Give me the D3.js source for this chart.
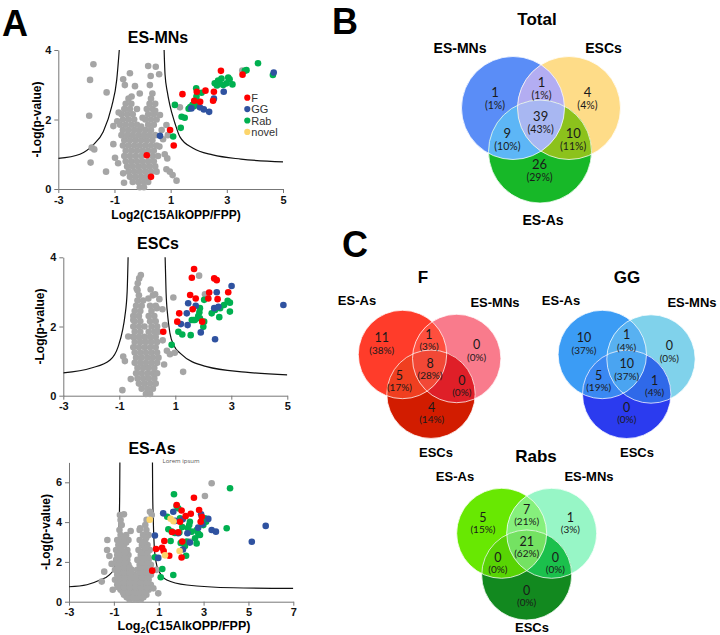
<!DOCTYPE html>
<html>
<head>
<meta charset="utf-8">
<script src="https://cdn.jsdelivr.net/npm/d3@7"></script>
<style>
body { margin: 0; background: #fff; }
svg { display: block; }
text { font-family: "Liberation Sans", Arial, sans-serif; }
</style>
</head>
<body>
<script>
// ---------- volcano data (Log2 ratio, -Log p) ----------
const grey1 = [[-0.1,0.05],[0.05,0.05],[-0.35,0.2],[-0.15,0.2],[0.05,0.2],[0.2,0.2],
  [-0.45,0.35],[-0.25,0.35],[-0.05,0.35],[0.15,0.35],
  [-0.5,0.5],[-0.3,0.5],[-0.1,0.5],[0.1,0.5],[0.3,0.5],[0.5,0.5],
  [-0.55,0.65],[-0.35,0.65],[-0.15,0.65],[0.05,0.65],[0.25,0.65],[0.45,0.65],
  [-0.6,0.8],[-0.4,0.8],[-0.2,0.8],[0,0.8],[0.2,0.8],[0.4,0.8],
  [-0.65,0.95],[-0.45,0.95],[-0.25,0.95],[-0.05,0.95],[0.35,0.95],[0.55,0.95],
  [-0.6,1.1],[-0.4,1.1],[-0.2,1.1],[0,1.1],[0.2,1.1],[0.4,1.1],
  [-0.7,1.25],[-0.5,1.25],[-0.3,1.25],[-0.1,1.25],[0.1,1.25],[0.3,1.25],[0.5,1.25],
  [-0.65,1.4],[-0.45,1.4],[-0.25,1.4],[-0.05,1.4],[0.15,1.4],[0.35,1.4],
  [-0.75,1.55],[-0.55,1.55],[-0.35,1.55],[-0.15,1.55],[0.05,1.55],[0.25,1.55],[0.45,1.55],
  [-0.7,1.7],[-0.5,1.7],[-0.3,1.7],[-0.1,1.7],[0.1,1.7],[0.3,1.7],
  [-0.8,1.85],[-0.6,1.85],[-0.4,1.85],[-0.2,1.85],[0.2,1.85],[0.4,1.85],
  [-0.7,2.0],[-0.5,2.0],[-0.3,2.0],[0.1,2.0],[0.3,2.0],[0.5,2.0],
  [-0.75,2.15],[-0.55,2.15],[-0.35,2.15],[0.2,2.15],[0.4,2.15],
  [-0.65,2.3],[-0.45,2.3],[0.15,2.3],[0.35,2.3],
  [-0.6,2.45],[-0.4,2.45],[0.25,2.45],[0.45,2.45],
  [-0.5,2.6],[0.3,2.6],[-0.1,2.75],[0.35,2.75],
  [-0.85,2.2],[-0.9,1.95],[-0.2,2.3],[0.0,2.05],[-0.05,1.8],[0.45,2.25],
  [-1.75,3.59],[-1.87,3.14],[-1.28,2.78],[-1.90,2.11],[-1.81,1.19],[-1.72,1.14],[-1.85,0.76],
  [-1.30,0.50],[-0.45,3.33],[-0.69,3.16],[0.20,3.54],[0.47,3.52],[0.29,3.25],[0.59,3.30],
  [-0.63,2.99],[-0.27,2.96],[0.26,2.99],[-0.39,2.66],[-1.04,1.81],[-1.04,1.29],[-0.98,0.90],
  [-0.87,0.74],[-0.69,0.45],[-0.66,0.18],[0.85,1.84],[0.73,1.43],[0.79,1.00],[0.88,0.88],
  [0.85,0.57],[1.07,0.40],[0.62,2.13],[0.60,1.22],[0.68,1.70],[1.21,0.24],[0.97,0.50],
  [1.33,2.35],[3.55,3.41],[0.9,1.55]];
const red1 = [[1.42,2.73],[1.84,2.54],[1.93,2.80],[2.24,2.83],[2.54,2.80],[2.51,2.54],[2.05,2.51],
  [0.98,1.70],[1.11,1.25],[2.79,3.40],[3.56,3.29],[0.15,0.97],[0.30,0.35]];
const blue1 = [[0.62,1.53],[1.74,2.32],[2.04,2.35],[2.18,2.29],[2.37,2.22],[2.54,2.60],[2.89,2.80],[4.67,3.35]];
const green1 = [[4.11,3.62],[4.64,3.28],[3.64,3.40],[3.05,3.21],[2.57,3.04],[2.69,3.12],[2.75,3.04],
  [2.87,2.99],[2.99,3.04],[3.10,3.16],[3.20,3.01],[2.81,3.18],[2.65,2.98],[2.10,2.77],[1.92,2.66],
  [1.91,2.90],[1.86,2.47],[1.78,2.42],[1.95,2.44],[1.83,2.38],[1.70,2.36],[1.98,2.52],[1.64,2.31],
  [1.15,2.42],[1.39,2.08],[1.50,2.05],[1.36,1.76],[1.09,1.51],[3.70,3.42]];
const novel1 = [];

const grey2 = [[-0.05,0.05],[0.1,0.05],[-0.2,0.2],[0,0.2],[0.2,0.2],
  [-0.3,0.35],[-0.1,0.35],[0.1,0.35],[0.3,0.35],
  [-0.35,0.5],[-0.15,0.5],[0.05,0.5],[0.25,0.5],
  [-0.4,0.65],[-0.2,0.65],[0,0.65],[0.2,0.65],[0.35,0.65],
  [-0.35,0.8],[-0.15,0.8],[0.05,0.8],[0.25,0.8],
  [-0.45,0.95],[-0.25,0.95],[-0.05,0.95],[0.15,0.95],[0.35,0.95],
  [-0.4,1.1],[-0.2,1.1],[0,1.1],[0.2,1.1],[0.4,1.1],
  [-0.45,1.25],[-0.25,1.25],[-0.05,1.25],[0.15,1.25],[0.35,1.25],
  [-0.5,1.4],[-0.3,1.4],[-0.1,1.4],[0.1,1.4],[0.3,1.4],
  [-0.45,1.55],[-0.25,1.55],[-0.05,1.55],[0.15,1.55],[0.35,1.55],
  [-0.5,1.7],[-0.3,1.7],[-0.1,1.7],[0.1,1.7],[0.3,1.7],
  [-0.45,1.85],[-0.25,1.85],[0.05,1.85],[0.25,1.85],[0.4,1.85],
  [-0.5,2.0],[-0.3,2.0],[-0.1,2.0],[0.15,2.0],[0.35,2.0],
  [-0.45,2.15],[-0.25,2.15],[0.1,2.15],[0.3,2.15],
  [-0.5,2.3],[-0.3,2.3],[0.05,2.3],[0.25,2.3],
  [-0.45,2.45],[-0.25,2.45],[0.15,2.45],
  [-0.4,2.6],[-0.2,2.6],[0.1,2.6],[0.3,2.6],
  [-0.35,2.75],[-0.15,2.75],[-0.3,2.9],[0.2,2.9],[-0.35,3.05],
  [-0.29,3.39],[-0.23,3.49],[-0.34,3.25],[-0.38,3.10],[0.04,2.81],[0.28,2.93],[0.12,3.07],
  [0.43,2.79],[0.34,2.53],[0.63,2.04],[-0.86,1.13],[-0.80,1.0],[-0.59,0.48],[-0.89,0.16],
  [-0.68,1.71],[-0.50,2.19],[1.85,3.47],[0.93,2.84],[0.54,2.50],[0.98,1.24],[1.28,0.69],
  [0.81,1.2],[2.06,2.93],[0.55,1.6],[0.6,0.9],[0.7,1.3]];
const red2 = [[1.67,3.66],[1.59,3.41],[2.39,3.39],[2.48,3.34],[2.21,2.98],[2.89,2.99],[1.53,2.91],
  [1.73,2.81],[2.18,2.81],[2.51,2.79],[1.62,2.50],[1.14,2.38],[1.96,2.14],[1.07,2.14],[0.57,1.85]];
const blue2 = [[3.01,3.17],[2.48,2.99],[1.46,2.67],[1.73,2.60],[2.39,2.53],[2.54,2.57],[1.41,2.38],
  [1.20,2.07],[1.44,2.04],[1.91,1.83],[2.42,1.63],[4.86,2.62]];
const green2 = [[2.03,2.77],[1.88,2.53],[1.86,2.41],[1.82,2.30],[1.88,2.24],[2.03,2.14],[2.0,1.99],
  [1.59,2.19],[1.70,2.19],[1.11,1.85],[1.25,1.77],[1.55,1.75],[0.87,1.47],[2.30,2.38],[2.42,2.48],
  [2.60,2.53],[2.74,2.62],[2.87,2.74],[2.95,2.69],[2.95,2.43],[2.57,2.27],[1.65,2.19]];
const novel2 = [];

const grey3 = [[-0.3,0.1],[-0.05,0.1],[0.2,0.1],
  [-0.55,0.35],[-0.3,0.35],[-0.05,0.35],[0.2,0.35],[0.45,0.35],
  [-0.7,0.6],[-0.45,0.6],[-0.2,0.6],[0.05,0.6],[0.3,0.6],[0.55,0.6],
  [-0.85,0.85],[-0.6,0.85],[-0.35,0.85],[-0.1,0.85],[0.15,0.85],[0.4,0.85],[0.65,0.85],
  [-0.95,1.1],[-0.7,1.1],[-0.45,1.1],[-0.2,1.1],[0.05,1.1],[0.3,1.1],[0.55,1.1],
  [-0.85,1.35],[-0.6,1.35],[-0.35,1.35],[-0.1,1.35],[0.15,1.35],[0.4,1.35],[0.65,1.35],
  [-0.95,1.6],[-0.7,1.6],[-0.45,1.6],[-0.2,1.6],[0.05,1.6],[0.3,1.6],[0.55,1.6],
  [-0.85,1.85],[-0.6,1.85],[-0.35,1.85],[0.15,1.85],[0.4,1.85],[0.65,1.85],
  [-0.9,2.1],[-0.65,2.1],[-0.4,2.1],[0.05,2.1],[0.3,2.1],[0.55,2.1],
  [-0.85,2.35],[-0.6,2.35],[-0.35,2.35],[0.2,2.35],[0.45,2.35],
  [-0.9,2.6],[-0.65,2.6],[-0.4,2.6],[0.1,2.6],[0.35,2.6],[0.6,2.6],
  [-0.8,2.85],[-0.55,2.85],[0.25,2.85],[0.5,2.85],
  [-0.85,3.1],[-0.6,3.1],[-0.35,3.1],[0.15,3.1],[0.4,3.1],
  [-0.7,3.35],[-0.45,3.35],[0.3,3.35],[0.55,3.35],
  [-0.75,3.6],[0.15,3.6],[0.45,3.6],[-0.65,3.85],[0.4,3.85],[-0.7,4.1],
  [-0.43,0.22],[-0.18,0.22],[0.07,0.22],[0.32,0.22],
  [-0.6,0.47],[-0.35,0.47],[-0.1,0.47],[0.15,0.47],[0.4,0.47],
  [-0.8,0.72],[-0.55,0.72],[-0.3,0.72],[-0.05,0.72],[0.2,0.72],[0.45,0.72],
  [-0.8,0.97],[-0.55,0.97],[-0.3,0.97],[-0.05,0.97],[0.2,0.97],[0.45,0.97],
  [-0.75,1.22],[-0.5,1.22],[-0.25,1.22],[0,1.22],[0.25,1.22],[0.5,1.22],
  [-0.8,1.47],[-0.55,1.47],[-0.3,1.47],[0.2,1.47],[0.45,1.47],
  [-0.8,1.72],[-0.55,1.72],[-0.3,1.72],[0.2,1.72],[0.45,1.72],
  [-0.75,1.97],[-0.5,1.97],[0.25,1.97],[0.5,1.97],
  [-0.75,2.22],[-0.5,2.22],[0.3,2.22],[0.55,2.22],
  [-0.75,2.47],[-0.5,2.47],[0.25,2.47],[0.5,2.47],
  [-0.7,2.72],[0.4,2.72],[-0.7,2.97],[-0.45,2.97],[0.3,2.97],[-0.55,3.22],[0.45,3.22],
  [-0.73,4.36],[-0.55,4.39],[-1.29,3.10],[-1.43,1.51],[-1.54,1.01],[-1.2,2.3],[-1.1,1.9],
  [-1.05,0.6],[0.61,4.52],[0.69,4.36],[0.46,4.11],[0.76,0.67],[0.98,0.42],[3.36,5.95],
  [3.06,5.31],[2.39,3.02],[-1.3,2.6],[0.9,1.6],[-0.25,3.55],[0.17,3.69]];
const red3 = [[2.57,5.22],[1.80,4.86],[2.02,4.58],[2.43,4.42],[2.80,4.61],[2.87,4.02],[2.92,4.27],
  [1.25,3.05],[1.15,2.71],[1.22,2.55],[0.88,2.65],[1.47,2.31],[2.02,2.22],[2.05,3.02],[0.71,1.56],
  [1.87,3.49],[1.95,4.02],[1.60,3.50],[2.20,4.30]];
const blue3 = [[5.77,3.81],[5.15,3.01],[3.36,3.60],[3.55,3.52],[1.65,4.52],[1.20,4.44],[2.07,4.14],
  [2.89,4.39],[3.21,4.16],[2.76,3.72],[2.28,3.44],[1.87,3.44],[0.83,3.33],[0.98,2.20],[2.08,2.62],
  [2.39,2.97],[1.73,4.06],[2.95,3.90]];
const green3 = [[4.18,5.70],[1.68,5.40],[1.80,4.81],[1.87,4.69],[1.38,4.27],[1.95,4.19],[2.39,4.02],
  [2.36,3.85],[3.06,4.19],[3.11,4.02],[2.99,3.85],[4.03,3.69],[1.43,3.64],[1.58,3.52],[1.72,3.45],
  [2.47,3.52],[2.69,3.60],[2.76,3.44],[2.84,3.35],[2.62,3.19],[1.53,3.05],[2.25,3.02],[2.69,2.93],
  [2.22,2.31],[0.83,2.23],[1.16,1.64],[1.09,1.23],[1.65,1.34],[2.17,2.80],[2.05,3.75],[2.30,3.70],
  [1.92,3.48],[2.95,4.05],[1.98,2.95]];
const novel3 = [[0.60,4.12],[1.53,4.17],[1.66,4.04],[1.93,2.55],[1.28,2.33]];

// cut-off curves
const cutL1 = [[-3,0.88],[-2.23,1.0],[-1.76,1.27],[-1.40,1.65],[-1.10,2.37],[-0.92,3.14],[-0.81,4.2]];
const cutR1 = [[0.76,4.2],[0.8,3.3],[0.88,2.8],[0.97,2.42],[1.15,1.9],[1.33,1.5],[1.8,1.17],[2.5,0.98],[3.5,0.86],[5,0.78]];
const cutL2 = [[-3,0.66],[-2,0.8],[-1.33,1.03],[-1.04,1.42],[-0.88,1.9],[-0.8,2.3],[-0.72,3.0],[-0.68,4.2]];
const cutR2 = [[0.63,4.2],[0.67,3.0],[0.73,2.3],[0.81,1.8],[0.95,1.45],[1.17,1.23],[2.12,0.84],[3.5,0.68],[5,0.60]];
const cutL3 = [[-3,0.75],[-2.2,0.85],[-1.62,1.09],[-1.2,1.35],[-1.02,1.6],[-0.88,2.2],[-0.8,2.8],[-0.76,4],[-0.74,5.5],[-0.73,7.2]];
const cutR3 = [[0.72,7.2],[0.73,5.5],[0.76,4],[0.8,2.8],[0.88,2.0],[1.0,1.55],[1.36,1.09],[2.25,0.84],[4.33,0.70],[7,0.67]];

const xTicks12 = [-3, -1, 1, 3, 5];
const xTicks3 = [-3, -1, 1, 3, 5, 7];
const yTicks12 = [0, 2, 4];
const yTicks3 = [0, 2, 4, 6];
const legendNames = ["F", "GG", "Rab", "novel"];

// ---------- Venn data: regions a, ab, b, ac, abc, bc, c ----------
const totalSets = ["ES-MNs", "ESCs", "ES-As"];
const totalCounts = [1, 1, 4, 9, 39, 10, 26];
const totalPct = [1, 1, 4, 10, 43, 11, 29];
const fSets = ["ES-As", "ES-MNs", "ESCs"];
const fCounts = [11, 1, 0, 5, 8, 0, 4];
const fPct = [38, 3, 0, 17, 28, 0, 14];
const ggSets = ["ES-As", "ES-MNs", "ESCs"];
const ggCounts = [10, 1, 0, 5, 10, 1, 0];
const ggPct = [37, 4, 0, 19, 37, 4, 0];
const rabSets = ["ES-As", "ES-MNs", "ESCs"];
const rabCounts = [5, 7, 1, 0, 21, 0, 0];
const rabPct = [15, 21, 3, 0, 62, 0, 0];

const dotColor = {grey: "#a5a5a5", green: "#00b050", blue: "#2f52a0", red: "#ff0000", novel: "#fcd56c"};

const svg = d3.select("body").append("svg")
    .attr("width", 720)
    .attr("height", 635);

let clipId = 0;

function drawVolcano(p) {
    const x = d3.scaleLinear().domain(p.xDomain).range(p.xRange);
    const y = d3.scaleLinear().domain(p.yDomain).range(p.yRange);
    const g = svg.append("g");
    const id = "vclip" + (clipId++);

    svg.append("clipPath").attr("id", id)
        .append("rect")
        .attr("x", p.xRange[0]).attr("y", p.yRange[1])
        .attr("width", p.xRange[1] - p.xRange[0])
        .attr("height", p.yRange[0] - p.yRange[1]);

    const xAxis = g.append("g")
        .attr("transform", "translate(0," + p.yRange[0] + ")")
        .call(d3.axisBottom(x).tickValues(p.xTicks).tickSize(4).tickSizeOuter(0).tickFormat(d => String(d)));
    const yAxis = g.append("g")
        .attr("transform", "translate(" + p.xRange[0] + ",0)")
        .call(d3.axisLeft(y).tickValues(p.yTicks).tickSize(4).tickSizeOuter(0).tickFormat(d => String(d)));
    [xAxis, yAxis].forEach(a => {
        a.selectAll("path, line").attr("stroke", "#777");
        a.selectAll("text")
            .style("font-family", "'Liberation Sans', Arial, sans-serif")
            .style("font-weight", "bold")
            .style("font-size", "11px")
            .attr("fill", "#111");
    });

    const line = d3.line()
        .x(d => x(d[0]))
        .y(d => y(d[1]))
        .curve(d3.curveMonotoneX);

    const plotArea = g.append("g").attr("clip-path", "url(#" + id + ")");
    p.cuts.forEach(c => {
        plotArea.append("path")
            .attr("d", line(c))
            .attr("fill", "none")
            .attr("stroke", "#111")
            .attr("stroke-width", 1.2);
    });

    [["grey", p.grey], ["green", p.green], ["blue", p.blue], ["red", p.red], ["novel", p.novel]]
        .forEach(([k, arr]) => {
            g.append("g").selectAll("circle")
                .data(arr)
                .enter().append("circle")
                .attr("cx", d => x(d[0]))
                .attr("cy", d => y(d[1]))
                .attr("r", 3.3)
                .attr("fill", dotColor[k]);
        });

    // title
    g.append("text")
        .attr("x", p.titleX).attr("y", p.titleY)
        .attr("text-anchor", "middle")
        .style("font-weight", "bold").style("font-size", "16px")
        .text(p.title);

    // y label
    g.append("text")
        .attr("transform", "translate(" + p.yLabelX + "," + ((p.yRange[0] + p.yRange[1]) / 2) + ") rotate(-90)")
        .attr("text-anchor", "middle")
        .style("font-weight", "bold").style("font-size", "12px")
        .text("-Log(p-value)");

    if (p.xLabel) {
        const t = g.append("text")
            .attr("x", p.xLabelX).attr("y", p.xLabelY)
            .attr("text-anchor", "middle")
            .style("font-weight", "bold").style("font-size", p.xLabelSize + "px");
        if (p.subscript) {
            t.append("tspan").text("Log");
            t.append("tspan").attr("dy", 3).style("font-size", "9px").text("2");
            t.append("tspan").attr("dy", -3).text("(C15AlkOPP/FPP)");
        } else {
            t.text("Log2(C15AlkOPP/FPP)");
        }
    }
    return {g: g, x: x, y: y};
}

const v1 = drawVolcano({
    xDomain: [-3, 5], yDomain: [0, 4], xRange: [58.3, 283], yRange: [189, 50],
    xTicks: xTicks12, yTicks: yTicks12,
    grey: grey1, green: green1, blue: blue1, red: red1, novel: novel1,
    cuts: [cutL1, cutR1],
    title: "ES-MNs", titleX: 158, titleY: 43, yLabelX: 41,
    xLabel: true, xLabelX: 176, xLabelY: 219, xLabelSize: 12
});

// legend in the ES-MNs plot
const legColors = [dotColor.red, dotColor.blue, dotColor.green, dotColor.novel];
const leg = v1.g.append("g").selectAll("g")
    .data(legendNames)
    .enter().append("g")
    .attr("transform", (d, i) => "translate(247.3," + (97.7 + i * 11.4) + ")");
leg.append("circle").attr("r", 3.1).attr("fill", (d, i) => legColors[i]);
leg.append("text").attr("x", 4).attr("y", 4)
    .style("font-size", "11px").attr("fill", "#333").text(d => d);

drawVolcano({
    xDomain: [-3, 5], yDomain: [0, 4], xRange: [63.3, 287.3], yRange: [395.7, 257.3],
    xTicks: xTicks12, yTicks: yTicks12,
    grey: grey2, green: green2, blue: blue2, red: red2, novel: novel2,
    cuts: [cutL2, cutR2],
    title: "ESCs", titleX: 158, titleY: 249, yLabelX: 44,
    xLabel: false
});

const v3 = drawVolcano({
    xDomain: [-3, 7], yDomain: [0, 7], xRange: [69, 293.3], yRange: [601.7, 462.4],
    xTicks: xTicks3, yTicks: yTicks3,
    grey: grey3, green: green3, blue: blue3, red: red3, novel: novel3,
    cuts: [cutL3, cutR3],
    title: "ES-As", titleX: 152, titleY: 454, yLabelX: 50,
    xLabel: true, xLabelX: 184, xLabelY: 630, xLabelSize: 12.5, subscript: true
});
v3.g.append("text").attr("x", 181).attr("y", 463)
    .attr("text-anchor", "middle").style("font-family", "'Open Sans', sans-serif")
    .style("font-size", "6px").attr("fill", "#555").text("Lorem ipsum");

// ---------- Venn diagrams ----------
function drawVenn(v) {
    const g = svg.append("g");
    const c = v.circles;
    const ids = c.map(() => "venn" + (clipId++));
    c.forEach((ci, i) => {
        svg.append("clipPath").attr("id", ids[i])
            .append("circle").attr("cx", ci[0]).attr("cy", ci[1]).attr("r", v.r);
    });
    const circle = (sel, ci, col) => sel.append("circle")
        .attr("cx", ci[0]).attr("cy", ci[1]).attr("r", v.r).attr("fill", col);

    // singles
    circle(g, c[0], v.colors[0]);
    circle(g, c[1], v.colors[2]);
    circle(g, c[2], v.colors[6]);
    // pairs
    circle(g.append("g").attr("clip-path", "url(#" + ids[0] + ")"), c[1], v.colors[1]);
    circle(g.append("g").attr("clip-path", "url(#" + ids[0] + ")"), c[2], v.colors[3]);
    circle(g.append("g").attr("clip-path", "url(#" + ids[1] + ")"), c[2], v.colors[5]);
    // triple
    circle(g.append("g").attr("clip-path", "url(#" + ids[0] + ")")
        .append("g").attr("clip-path", "url(#" + ids[1] + ")"), c[2], v.colors[4]);
    // outlines
    c.forEach(ci => {
        g.append("circle").attr("cx", ci[0]).attr("cy", ci[1]).attr("r", v.r)
            .attr("fill", "none").attr("stroke", "#fff").attr("stroke-opacity", 0.75).attr("stroke-width", 1);
    });

    // region label anchors from the circle layout
    const cen = [d3.mean(c, d => d[0]), d3.mean(c, d => d[1])];
    const away = (pt, k) => [pt[0] + k * (pt[0] - cen[0]), pt[1] + k * (pt[1] - cen[1])];
    const mid = (a, b) => [(a[0] + b[0]) / 2, (a[1] + b[1]) / 2];
    const anchors = [
        away(c[0], v.kSingle), away(mid(c[0], c[1]), v.kPair), away(c[1], v.kSingle),
        away(mid(c[0], c[2]), v.kPair), cen, away(mid(c[1], c[2]), v.kPair), away(c[2], v.kSingle)
    ];
    anchors.forEach((a, i) => {
        g.append("text").attr("x", a[0]).attr("y", a[1] - v.gap / 2 + 4.5)
            .attr("text-anchor", "middle")
            .style("font-family", "Lato, 'Open Sans', sans-serif")
            .style("font-size", v.numSize + "px").attr("fill", "#1a1a1a")
            .text(v.counts[i]);
        g.append("text").attr("x", a[0]).attr("y", a[1] + v.gap / 2 + 4.5)
            .attr("text-anchor", "middle")
            .style("font-family", "Lato, 'Open Sans', sans-serif")
            .style("font-size", v.pctSize + "px").attr("fill", "#1a1a1a")
            .text("(" + v.pct[i] + "%)");
    });

    v.labels.forEach((l, i) => {
        g.append("text").attr("x", l[0]).attr("y", l[1])
            .attr("text-anchor", "middle")
            .style("font-weight", "bold").style("font-size", v.labelSize + "px")
            .text(v.sets[i]);
    });
    g.append("text").attr("x", v.title[0]).attr("y", v.title[1])
        .attr("text-anchor", "middle")
        .style("font-weight", "bold").style("font-size", "17px")
        .text(v.title[2]);
}

drawVenn({
    sets: totalSets, counts: totalCounts, pct: totalPct,
    circles: [[513, 108], [569, 108], [540, 151.5]], r: 51.5,
    colors: ["#5a8df7", "#b3adf2", "#fedc88", "#5db6f6", "#a8b7f2", "#8cc21c", "#17b828"],
    labels: [[460, 53], [603.5, 53], [543, 225]], labelSize: 14,
    title: [537, 25, "Total"], numSize: 13, pctSize: 10.5, gap: 12.5, kSingle: 0.65, kPair: 1.35
});
drawVenn({
    sets: fSets, counts: fCounts, pct: fPct,
    circles: [[402.5, 354.5], [456.7, 358.5], [431, 394.2]], r: 44.2,
    colors: ["#ff3c2a", "#ff4f3e", "#f97b8c", "#f03f20", "#f24836", "#df1f28", "#d21c00"],
    labels: [[357, 305], [495, 307], [436, 457]], labelSize: 13,
    title: [423, 283, "F"], numSize: 12.5, pctSize: 10, gap: 11.5, kSingle: 0.75, kPair: 1.3
});
drawVenn({
    sets: ggSets, counts: ggCounts, pct: ggPct,
    circles: [[602.3, 354.5], [651, 359], [626.7, 394.3]], r: 44.2,
    colors: ["#3b9cf5", "#58b1f1", "#80d2eb", "#3a88f2", "#4aa4f1", "#2f69e9", "#2b3bef"],
    labels: [[561, 305], [692, 307], [637, 457]], labelSize: 13,
    title: [627, 283, "GG"], numSize: 12.5, pctSize: 10, gap: 11.5, kSingle: 0.75, kPair: 1.3
});
drawVenn({
    sets: rabSets, counts: rabCounts, pct: rabPct,
    circles: [[501.7, 533.3], [551.7, 533.3], [526.7, 575]], r: 45,
    colors: ["#68e802", "#86f07c", "#97f6c6", "#58d404", "#74e262", "#1bc04c", "#12891f"],
    labels: [[455, 481], [589, 481], [532, 632]], labelSize: 13,
    title: [536, 462, "Rabs"], numSize: 12.5, pctSize: 10, gap: 11.5, kSingle: 0.75, kPair: 1.3
});

// panel letters
[["A", 2, 36], ["B", 332, 34], ["C", 342, 257]].forEach(d => {
    svg.append("text").attr("x", d[1]).attr("y", d[2])
        .style("font-weight", "bold").style("font-size", "36px")
        .text(d[0]);
});
</script>
</body>
</html>
